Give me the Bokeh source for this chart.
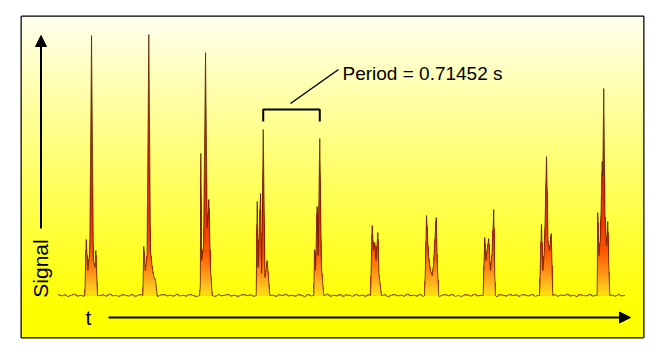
import numpy as np
from bokeh.plotting import figure
from bokeh.models import Range1d, Arrow, NormalHead
from bokeh.core.properties import value
from bokeh.embed import file_html
from bokeh.resources import INLINE

# ---- data ----
# time of the reference point of each beat (s)
BEAT_T = [0.413, 1.129, 1.838, 2.559, 3.266, 3.954, 4.671, 5.441, 6.100, 6.816]
# offsets of the shape points of each beat from its reference time (ms)
BEAT_DT_MS = [
    [-84, -66, -46, -22, 0, 23, 44, 54, 75],
    [-75, -63, -44, -22, 0, 21, 40, 59, 84, 105],
    [-75, -65, -59, -50, -25, 0, 21, 41, 63, 84],
    [-88, -75, -65, -34, -20, 0, 22, 50, 83],
    [-75, -66, -54, -33, -21, 0, 21, 34, 50],
    [-54, -33, -16, 0, 15, 38, 53, 84],
    [-96, -84, -71, -46, -21, 0, 16, 50, 64, 83],
    [-133, -113, -98, -85, -63, -41, -23, 0, 11, 21],
    [-88, -63, -44, -25, 0, 19, 38, 59, 79],
    [-83, -75, -60, -41, -20, -13, 0, 15, 34, 50, 63, 75],
]
# signal amplitude at those points (arbitrary units above baseline)
BEAT_AMP = [
    [0, 56, 25, 45, 260, 35, 28, 45, 0],
    [0, 49, 25, 40, 261, 45, 30, 20, 15, 0],
    [0, 10, 142, 35, 50, 243, 68, 96, 25, 0],
    [0, 94, 28, 102, 22, 166, 18, 35, 0],
    [0, 46, 25, 89, 40, 157, 30, 15, 0],
    [0, 70, 45, 53, 35, 63, 20, 0],
    [0, 30, 80, 40, 25, 20, 30, 78, 30, 0],
    [0, 58, 35, 45, 57, 25, 40, 86, 25, 0],
    [0, 71, 25, 48, 139, 55, 45, 62, 0],
    [0, 83, 40, 60, 134, 120, 207, 80, 50, 74, 30, 0],
]
# baseline noise, one value every NOISE_STEP seconds from t = 0
NOISE_STEP = 0.04
NOISE = [
    1.0, -0.5, 0.8, -1.2, 0.3, 1.5, -0.8, 0.2, -1.0, 0.9,
    0.4, -1.3, 1.1, -0.2, 0.7, -0.9, 1.6, -0.4, 0.1, -1.1,
    0.8, 0.3, -0.7, 1.2, -1.4, 0.5, 0.9, -0.3, 1.3, -0.8,
    0.2, -1.2, 0.6, 1.0, -0.5, 0.4, -1.0, 1.4, -0.6, 0.3,
    -0.9, 1.1, 0.2, -1.3, 0.8, -0.2, 1.5, -0.7, 0.5, -1.1,
    0.9, -0.4, 0.3, 1.2, -0.8, 0.6, -1.5, 0.4, 1.0, -0.3,
    0.7, -1.0, 1.3, -0.5, 0.2, -0.9, 1.1, 0.5, -1.2, 0.8,
    -0.1, 1.4, -0.6, 0.3, -1.0, 0.9, 0.2, -1.4, 1.2, -0.4,
    0.6, -0.8, 1.0, -0.2, 1.5, -1.1, 0.4, -0.5, 0.9, -1.3,
    0.7, 0.1, -0.9, 1.3, -0.6, 0.5, -1.2, 1.0, 0.3, -0.7,
    1.2, -0.3, 0.8, -1.4, 0.2, 1.1, -0.5, 0.6, -1.0, 1.4,
    -0.2, 0.4, -0.8, 1.2, -1.1, 0.7, 0.3, -0.6, 1.0, -1.3,
    0.5, 0.9, -0.4, 1.3, -0.9, 0.1, -1.2, 0.8, 0.4, -0.7,
    1.5, -0.5, 0.2, -1.0, 1.1, -0.3, 0.6, -1.4, 0.9, 0.3,
    -0.8, 1.2, -0.2, 0.7, -1.1, 1.0, 0.4, -0.6, 1.3, -0.9,
    0.2, -1.3, 0.8, 0.5, -0.4, 1.1, -1.0, 0.6, -0.2, 1.4,
    -0.7, 0.3, -1.2, 0.9, 0.1, -0.5, 1.2, -0.8, 0.4, -1.1,
    0.7, 1.0, -0.3, 0.5, -0.9, 1.3, -0.6, 0.2,
]
PERIOD_LABEL = "Period = 0.71452 s"
Y_LABEL = "Signal"
X_LABEL = "t"

# ---- build the signal ----
pts = []
windows = []
for t0, dts, amps in zip(BEAT_T, BEAT_DT_MS, BEAT_AMP):
    for dt, a in zip(dts, amps):
        pts.append((t0 + dt / 1000.0, float(a)))
    windows.append((t0 + dts[0] / 1000.0, t0 + dts[-1] / 1000.0))
for i, nv in enumerate(NOISE):
    t = i * NOISE_STEP
    if any(lo - 0.004 <= t <= hi + 0.004 for lo, hi in windows):
        continue
    pts.append((t, nv))
pts.sort()
sig_t = np.array([q[0] for q in pts])
sig_a = np.array([q[1] for q in pts])

# ---- layout helpers (pixel -> data) ----
PX_PER_S = 80.0
X0_PX = 58.0
BASE_PX = 295.0
def tx(px):
    return (px - X0_PX) / PX_PER_S
def ay(py):
    return BASE_PX - py

L, R, T, B = 21, 643, 16, 337
p = figure(width=667, height=356, output_backend="svg", toolbar_location=None,
           x_range=Range1d(tx(L), tx(R)), y_range=Range1d(ay(B), ay(T)),
           x_axis_type=None, y_axis_type=None,
           min_border_left=L, min_border_right=667 - R,
           min_border_top=T, min_border_bottom=356 - B)
p.grid.visible = False
p.outline_line_color = "black"
p.outline_line_width = 2
p.border_fill_color = "white"
p.background_fill_color = "#ffff00"

# background vertical gradient (pale at top -> yellow at bottom)
H = B - T
rows = []
for k in range(H):
    py = B - k  # bottom row first
    f = min(1.0, max(0.0, (py - T) / (312 - T)))
    bl = int(round(240 * (1 - f) ** 1.1))
    rows.append([(255 << 24) | (bl << 16) | (255 << 8) | 255])
img = np.array(rows, dtype=np.uint32)
p.image_rgba(image=[img], x=tx(L), y=ay(B), dw=tx(R) - tx(L), dh=ay(T) - ay(B))

# gradient fill under the curve: overlapping layers painted from the top colour down
stops = [(0, (255, 225, 10)), (10, (255, 190, 30)), (25, (255, 140, 20)),
         (45, (250, 85, 0)), (80, (238, 50, 0)), (130, (224, 38, 0)), (280, (200, 28, 0))]
def col_at(a):
    for (a0, c0), (a1, c1) in zip(stops[:-1], stops[1:]):
        if a <= a1:
            f = (a - a0) / (a1 - a0)
            return "#%02x%02x%02x" % tuple(int(round(c0[i] + (c1[i] - c0[i]) * f)) for i in range(3))
    return "#%02x%02x%02x" % stops[-1][1]
edges = list(np.arange(0, 150, 3.0)) + [290.0]
for lo, hi in reversed(list(zip(edges[:-1], edges[1:]))):
    p.varea(x=sig_t, y1=np.zeros_like(sig_a), y2=np.clip(sig_a, 0, hi),
            fill_color=col_at((lo + hi) / 2 if hi < 200 else 170))

p.line(sig_t, sig_a, line_color="#5a2400", line_width=0.9, line_alpha=0.85)

# period bracket between beat 4 and beat 5
xa, xb = BEAT_T[3], BEAT_T[4]
p.line([xa, xa, xb, xb], [ay(121), ay(109), ay(109), ay(121)], line_color="black", line_width=2)
p.line([tx(290), tx(338)], [ay(103), ay(69)], line_color="black", line_width=1.5)

FONT = value("Liberation Sans")
p.text(x=[tx(342)], y=[ay(73)], text=[PERIOD_LABEL], text_font=FONT, text_font_size="19px",
       text_align="left", text_baseline="middle", text_color="black")
p.text(x=[tx(40)], y=[ay(268)], text=[Y_LABEL], angle=np.pi / 2, text_font=FONT,
       text_font_size="21px", text_align="center", text_baseline="middle", text_color="black")
p.text(x=[tx(88)], y=[ay(317)], text=[X_LABEL], text_font=FONT, text_font_size="21px",
       text_align="center", text_baseline="middle", text_color="black")

# axis arrows
p.add_layout(Arrow(end=NormalHead(size=11, fill_color="black", line_color="black"),
                   x_start=tx(40.5), y_start=ay(228), x_end=tx(40.5), y_end=ay(35),
                   line_width=2, line_color="black"))
p.add_layout(Arrow(end=NormalHead(size=11, fill_color="black", line_color="black"),
                   x_start=tx(108), y_start=ay(317), x_end=tx(630), y_end=ay(317),
                   line_width=2, line_color="black"))

open("out.html", "w").write(file_html(p, INLINE))
